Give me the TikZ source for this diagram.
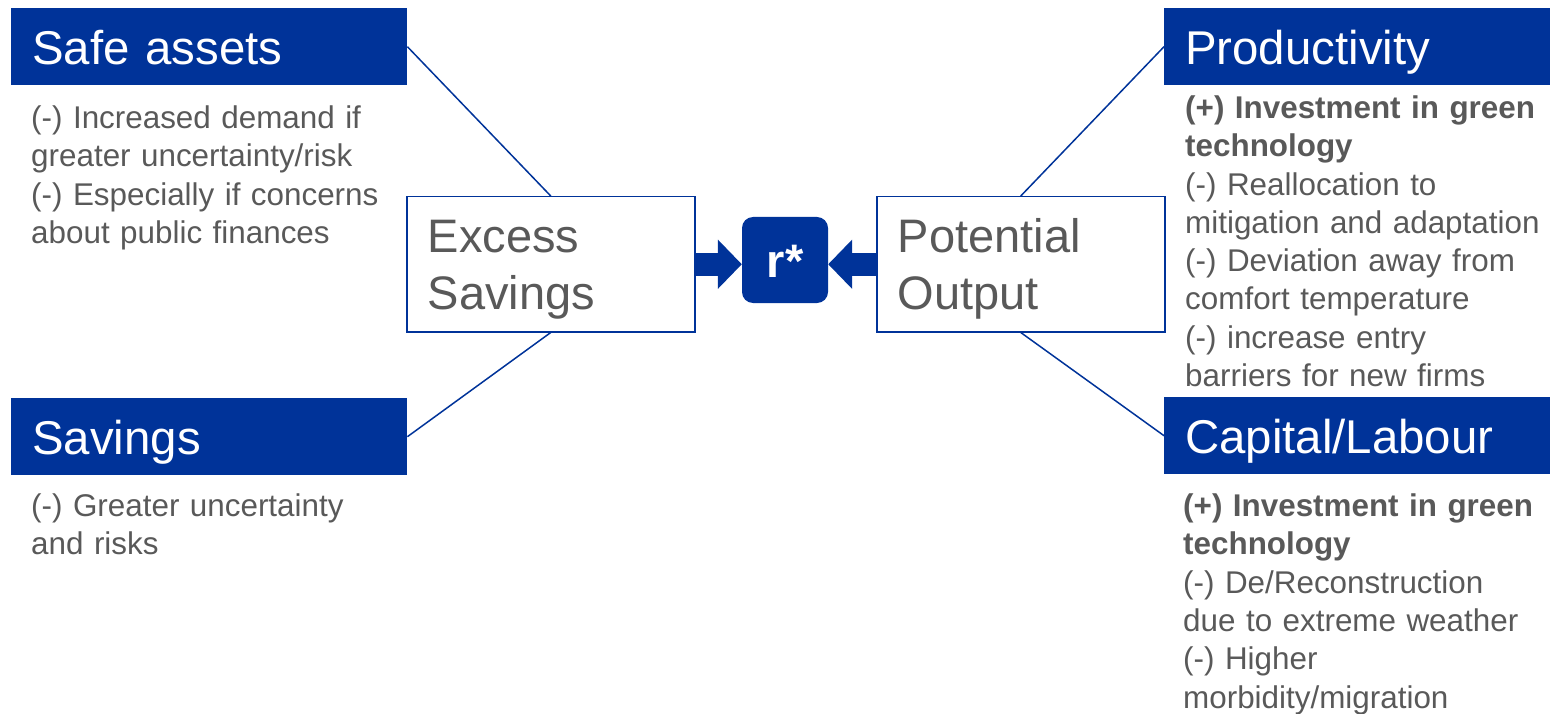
\documentclass[tikz,border=0pt]{standalone}
\usepackage{fontspec}
\setmainfont{Liberation Sans}
\usetikzlibrary{arrows.meta}
\definecolor{ecbblue}{HTML}{003399}
\definecolor{txtgray}{HTML}{595959}
\tikzset{
  head/.style={fill=ecbblue, text=white, anchor=north west,
    minimum width=396pt, minimum height=77pt, inner xsep=21pt, inner ysep=0pt,
    text width=354pt, align=left, text height=36pt, text depth=0pt,
    font=\fontsize{47.4}{56}\selectfont},
  body/.style={text=txtgray, inner sep=0pt, anchor=base west,
    text width=400pt, align=left, font=\fontsize{31.4}{38.3}\selectfont},
  core/.style={draw=ecbblue, line width=1.5pt, fill=white, anchor=north west,
    minimum width=288pt, minimum height=135pt, inner xsep=21pt, inner ysep=0pt,
    text width=246pt, align=left, text height=42pt, text depth=65pt,
    text=txtgray, font=\fontsize{47}{57}\selectfont},
  rate/.style={fill=ecbblue, rounded corners=11pt, minimum width=86pt,
    minimum height=86pt, inner sep=0pt, text=white, text height=34pt,
    text depth=0pt, font=\fontsize{47}{50}\selectfont\bfseries},
  link/.style={draw=ecbblue, line width=1.5pt},
  push/.style={draw=ecbblue, line width=23pt,
    -{Triangle[length=24pt,width=48pt]}},
}
\begin{document}
\begin{tikzpicture}[x=1pt, y=-1pt]
\useasboundingbox (0,0) rectangle (1550,714);

% category headers
\node[head] (SA) at (11,8) {Safe assets};
\node[head] (SV) at (11,398) {Savings};
\node[head] (PR) at (1164,8) {Productivity};
\node[head] (CL) at (1164,397) {Capital/Labour};

% explanations under each header
\node[body] (SAt) at (31,128.5) {(-) Increased demand if\\greater uncertainty/risk\\(-) Especially if concerns\\about public finances};
\node[body] (SVt) at (31,516.5) {(-) Greater uncertainty\\and risks};
\node[body] (PRt) at (1185,118.5) {\textbf{(+) Investment in green}\\\textbf{technology}\\(-) Reallocation to\\mitigation and adaptation\\(-) Deviation away from\\comfort temperature\\(-) increase entry\\barriers for new firms};
\node[body] (CLt) at (1183,516.5) {\textbf{(+) Investment in green}\\\textbf{technology}\\(-) De/Reconstruction\\due to extreme weather\\(-) Higher\\morbidity/migration};

% central channels
\node[core] (ES) at (406,196) {Excess\\Savings};
\node[core] (PO) at (876,196) {Potential\\Output};
\node[rate] (R) at (785,260) {r*};

% connectors
\draw[link] (SA.east) -- (ES.north);
\draw[link] (SV.east) -- (ES.south);
\draw[link] (PR.west) -- (PO.north);
\draw[link] (CL.west) -- (PO.south);
\draw[push] (ES.east) -- (ES.east -| R.west);
\draw[push] (PO.west) -- (PO.west -| R.east);
\end{tikzpicture}
\end{document}
